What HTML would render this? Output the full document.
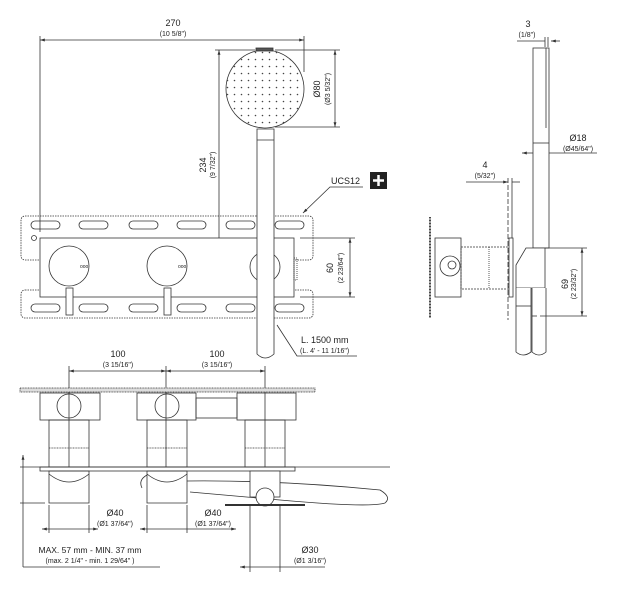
<!DOCTYPE html>
<html><head><meta charset="utf-8"><style>
html,body{margin:0;padding:0;background:#fff}
svg{display:block}
text{font-family:"Liberation Sans",sans-serif;fill:#222;stroke:none}
.b{font-size:9px}.s{font-size:7px}
</style></head><body>
<svg width="617" height="589" viewBox="0 0 617 589" xmlns="http://www.w3.org/2000/svg" fill="none" stroke="#333" stroke-width="0.8">
<defs>
<marker id="a" viewBox="0 0 10 10" refX="10" refY="5" markerWidth="6" markerHeight="6" orient="auto-start-reverse"><path d="M0,2 L10,5 L0,8z" fill="#333" stroke="none"/></marker>
<pattern id="dots" width="7" height="7" patternUnits="userSpaceOnUse"><circle cx="3.5" cy="3.5" r="0.8" fill="#444" stroke="none"/></pattern>
</defs>
<!-- FRONT VIEW -->
<text class="b" x="173" y="26" text-anchor="middle">270</text>
<text class="s" x="173" y="36" text-anchor="middle">(10 5/8")</text>
<line x1="40" y1="40" x2="304" y2="40" marker-start="url(#a)" marker-end="url(#a)"/>
<line x1="40" y1="36" x2="40" y2="232"/>
<line x1="304" y1="36" x2="304" y2="72"/>
<circle cx="265" cy="89" r="39" fill="url(#dots)"/>
<rect x="256" y="48" width="17" height="3" fill="#555"/>
<line x1="275" y1="50" x2="340" y2="50"/><line x1="275" y1="127" x2="340" y2="127"/>
<line x1="335" y1="50" x2="335" y2="127" marker-start="url(#a)" marker-end="url(#a)"/>
<text class="b" transform="translate(320,89) rotate(-90)" text-anchor="middle">Ø80</text>
<text class="s" transform="translate(330,89) rotate(-90)" text-anchor="middle">(Ø3 5/32")</text>
<line x1="219" y1="50" x2="219" y2="277" marker-start="url(#a)" marker-end="url(#a)"/>
<line x1="215" y1="50" x2="255" y2="50"/><line x1="215" y1="277" x2="255" y2="277"/>
<text class="b" transform="translate(206,165) rotate(-90)" text-anchor="middle">234</text>
<text class="s" transform="translate(215,165) rotate(-90)" text-anchor="middle">(9 7/32")</text>
<rect x="21" y="216" width="292" height="44" rx="4" stroke-dasharray="1.5 1"/>
<rect x="21" y="290" width="292" height="28" rx="4" stroke-dasharray="1.5 1"/>
<g>
<rect x="31" y="221" width="29" height="8" rx="4"/><rect x="79" y="221" width="29" height="8" rx="4"/><rect x="129" y="221" width="29" height="8" rx="4"/><rect x="177" y="221" width="29" height="8" rx="4"/><rect x="226" y="221" width="29" height="8" rx="4"/><rect x="275" y="221" width="29" height="8" rx="4"/>
<rect x="31" y="304" width="29" height="8" rx="4"/><rect x="79" y="304" width="29" height="8" rx="4"/><rect x="129" y="304" width="29" height="8" rx="4"/><rect x="177" y="304" width="29" height="8" rx="4"/><rect x="226" y="304" width="29" height="8" rx="4"/><rect x="275" y="304" width="29" height="8" rx="4"/>
</g>
<circle cx="34" cy="238" r="2.5"/>
<rect x="40" y="238" width="254" height="59" fill="#fff"/>
<rect x="294" y="258" width="3" height="22" stroke-dasharray="1 1"/>
<circle cx="69" cy="266" r="20" fill="#fff"/><circle cx="167" cy="266" r="20" fill="#fff"/>
<text x="80" y="268" style="font-size:5px">ooo</text><text x="178" y="268" style="font-size:5px">ooo</text>
<rect x="66" y="288" width="7" height="27" fill="#fff"/><rect x="164" y="288" width="7" height="27" fill="#fff"/>
<circle cx="265" cy="267" r="15" fill="#fff"/>
<path d="M257,129 H274 V354 Q265,362 257,354 Z" fill="#fff"/>
<line x1="257" y1="140" x2="274" y2="140"/>
<line x1="300" y1="238" x2="355" y2="238"/><line x1="300" y1="297" x2="355" y2="297"/>
<line x1="350" y1="238" x2="350" y2="297" marker-start="url(#a)" marker-end="url(#a)"/>
<text class="b" transform="translate(333,268) rotate(-90)" text-anchor="middle">60</text>
<text class="s" transform="translate(343,268) rotate(-90)" text-anchor="middle">(2 23/64")</text>
<text class="b" x="331" y="184">UCS12</text>
<polyline points="363,187 330,187 303,213" marker-end="url(#a)"/>
<rect x="370" y="172" width="17" height="17" fill="#222" stroke="none"/>
<path d="M378.5,175 v11 M373,180.5 h11" stroke="#fff" stroke-width="2.5"/>
<text class="b" x="301" y="343">L. 1500 mm</text>
<text class="s" x="300" y="353">(L. 4' - 11 1/16")</text>
<polyline points="277,325 297,356 357,356"/>
<!-- TOP VIEW -->
<text class="b" x="118" y="357" text-anchor="middle">100</text>
<text class="s" x="118" y="367" text-anchor="middle">(3 15/16")</text>
<text class="b" x="217" y="357" text-anchor="middle">100</text>
<text class="s" x="217" y="367" text-anchor="middle">(3 15/16")</text>
<line x1="69" y1="371" x2="166" y2="371" marker-start="url(#a)" marker-end="url(#a)"/>
<line x1="166" y1="371" x2="265" y2="371" marker-start="url(#a)" marker-end="url(#a)"/>
<line x1="69" y1="366" x2="69" y2="467"/><line x1="166" y1="366" x2="166" y2="467"/><line x1="265" y1="366" x2="265" y2="467"/>
<rect x="20" y="388" width="295" height="4" stroke-dasharray="1 0.6" fill="#ddd"/>
<rect x="40" y="393" width="60" height="27"/><rect x="137" y="393" width="59" height="27"/><rect x="196" y="398" width="41" height="20"/><rect x="237" y="393" width="59" height="27"/>
<circle cx="69" cy="406" r="12"/><circle cx="167" cy="406" r="12"/>
<rect x="49" y="420" width="40" height="47"/><rect x="147" y="420" width="40" height="47"/><rect x="245" y="420" width="40" height="47"/>
<line x1="49" y1="448" x2="89" y2="448" stroke-dasharray="1 0.6"/><line x1="147" y1="448" x2="187" y2="448" stroke-dasharray="1 0.6"/><line x1="245" y1="448" x2="285" y2="448" stroke-dasharray="1 0.6"/>
<line x1="20" y1="467" x2="390" y2="467"/>
<rect x="40" y="467" width="255" height="4"/>
<path d="M49,471 H89 V503 H49 Z M49,474 Q69,490 89,474"/>
<path d="M147,471 H187 V503 H147 Z M147,474 Q167,490 187,474"/>
<path d="M187,481 Q280,480 380,490 Q392,497 385,503 Q370,508 280,500 L190,492" />
<path d="M147,475 Q138,480 142,488"/>
<rect x="250" y="471" width="30" height="26" fill="#fff"/>
<circle cx="265" cy="497" r="9" fill="#fff"/>
<line x1="225" y1="505" x2="305" y2="505" stroke-width="2"/>
<line x1="49" y1="505" x2="49" y2="533"/><line x1="89" y1="505" x2="89" y2="533"/><line x1="147" y1="505" x2="147" y2="533"/><line x1="187" y1="505" x2="187" y2="533"/>
<line x1="42" y1="529" x2="98" y2="529" marker-start="url(#a)" marker-end="url(#a)"/>
<line x1="140" y1="529" x2="236" y2="529" marker-start="url(#a)" marker-end="url(#a)"/>
<text class="b" x="115" y="516" text-anchor="middle">Ø40</text>
<text class="s" x="115" y="526" text-anchor="middle">(Ø1 37/64")</text>
<text class="b" x="213" y="516" text-anchor="middle">Ø40</text>
<text class="s" x="213" y="526" text-anchor="middle">(Ø1 37/64")</text>
<line x1="23" y1="455" x2="23" y2="567" marker-start="url(#a)"/>
<line x1="20" y1="503" x2="45" y2="503"/>
<line x1="23" y1="567" x2="160" y2="567"/>
<text x="90" y="553" text-anchor="middle" style="font-size:8.5px">MAX. 57 mm - MIN. 37 mm</text>
<text class="s" x="90" y="563" text-anchor="middle">(max. 2 1/4" - min. 1 29/64" )</text>
<line x1="250" y1="505" x2="250" y2="572"/><line x1="280" y1="505" x2="280" y2="572"/>
<line x1="240" y1="567" x2="325" y2="567" marker-start="url(#a)"/>
<text class="b" x="310" y="553" text-anchor="middle">Ø30</text>
<text class="s" x="310" y="563" text-anchor="middle">(Ø1 3/16")</text>
<!-- SIDE VIEW -->
<text class="b" x="528" y="27" text-anchor="middle">3</text>
<text class="s" x="527" y="37" text-anchor="middle">(1/8")</text>
<line x1="517" y1="41" x2="545" y2="41"/><line x1="551" y1="41" x2="560" y2="41" marker-start="url(#a)"/>
<line x1="545" y1="37" x2="545" y2="47"/><line x1="548" y1="37" x2="548" y2="47"/>
<rect x="533" y="48" width="16" height="200" fill="#fff"/>
<line x1="546" y1="48" x2="546" y2="128"/>
<line x1="533" y1="143" x2="549" y2="143"/>
<text class="b" x="578" y="141" text-anchor="middle">Ø18</text>
<text class="s" x="578" y="151" text-anchor="middle">(Ø45/64")</text>
<line x1="522" y1="153" x2="533" y2="153" marker-start="url(#a)"/><line x1="549" y1="153" x2="597" y2="153"/>
<text class="b" x="485" y="168" text-anchor="middle">4</text>
<text class="s" x="485" y="178" text-anchor="middle">(5/32")</text>
<line x1="466" y1="182" x2="508" y2="182" marker-end="url(#a)"/><line x1="512" y1="182" x2="520" y2="182"/>
<line x1="508" y1="178" x2="508" y2="320" stroke-dasharray="5 2"/><line x1="512" y1="178" x2="512" y2="238"/>
<line x1="430" y1="217" x2="430" y2="318" stroke-width="1.8" stroke-dasharray="1 0.5"/>
<rect x="435" y="238" width="26" height="59"/>
<circle cx="450" cy="266" r="10"/><circle cx="452" cy="265" r="4"/>
<rect x="461" y="247" width="48" height="42" stroke-dasharray="2 1"/>
<line x1="489" y1="247" x2="489" y2="289" stroke-dasharray="1 1"/>
<rect x="509" y="238" width="4" height="59" fill="#fff"/>
<path d="M526,248 H545 V288 H516 V265 Z" fill="#fff"/>
<path d="M516,288 V352 Q523,358 531,352 V288" fill="#fff"/>
<path d="M532,288 V352 Q539,358 546,352 V288" fill="#fff"/>
<line x1="516" y1="306" x2="531" y2="306"/><line x1="532" y1="316" x2="537" y2="316"/>
<line x1="545" y1="248" x2="587" y2="248"/><line x1="540" y1="316" x2="587" y2="316"/>
<line x1="582" y1="248" x2="582" y2="316" marker-start="url(#a)" marker-end="url(#a)"/>
<text class="b" transform="translate(568,284) rotate(-90)" text-anchor="middle">69</text>
<text class="s" transform="translate(576,284) rotate(-90)" text-anchor="middle">(2 23/32")</text>
</svg>
</body></html>
